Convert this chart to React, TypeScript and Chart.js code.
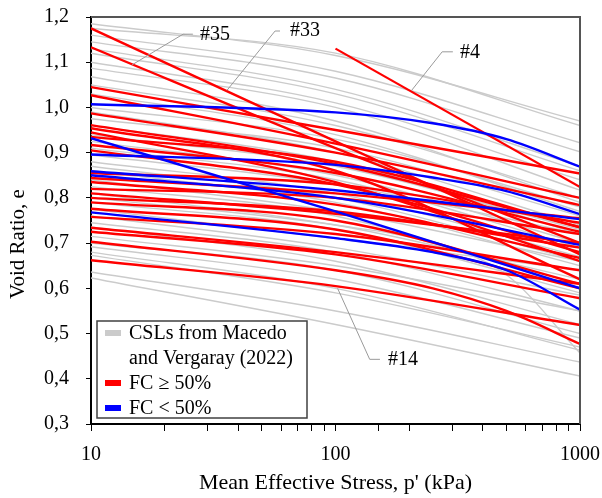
import React, { useEffect, useRef } from "react";
import { Chart, registerables } from "chart.js";

Chart.register(...registerables);

// Mean effective stress grids (kPa)
const STRESS = [10, 100, 1000];
const CURVE_STRESS = [10, 100, 250, 500, 1000];
const RED4_STRESS = [100, 1000];

// CSLs from Macedo and Vergaray (2022) – void ratio at STRESS
const grayCSL: number[][] = [
  [1.185, 1.115, 0.97],
  [1.175, 1.12, 0.96],
  [1.16, 1.08, 0.922],
  [1.145, 1.065, 0.902],
  [1.13, 1.04, 0.87],
  [1.12, 1.03, 0.86],
  [1.1, 1.01, 0.84],
  [1.087, 1.0, 0.817],
  [1.068, 0.97, 0.79],
  [1.05, 0.96, 0.8],
  [1.03, 0.94, 0.77],
  [1.0, 0.93, 0.78],
  [0.99, 0.9, 0.74],
  [0.975, 0.91, 0.76],
  [0.96, 0.88, 0.72],
  [0.94, 0.87, 0.73],
  [0.925, 0.85, 0.7],
  [0.91, 0.84, 0.69],
  [0.895, 0.83, 0.72],
  [0.88, 0.81, 0.67],
  [0.87, 0.8, 0.66],
  [0.86, 0.79, 0.65],
  [0.84, 0.77, 0.66],
  [0.825, 0.76, 0.6],
  [0.81, 0.74, 0.62],
  [0.79, 0.73, 0.59],
  [0.775, 0.71, 0.64],
  [0.76, 0.69, 0.585],
  [0.745, 0.68, 0.55],
  [0.736, 0.66, 0.52],
  [0.715, 0.65, 0.55],
  [0.7, 0.64, 0.5],
  [0.692, 0.62, 0.49],
  [0.68, 0.6, 0.463],
  [0.673, 0.59, 0.47],
  [0.636, 0.55, 0.437],
  [0.623, 0.52, 0.406],
];
// curved CSL – void ratio at CURVE_STRESS
const grayCSLCurved: number[][] = [[0.8, 0.74, 0.7, 0.63, 0.457]];

// FC >= 50 % – void ratio at STRESS
const redFC: number[][] = [
  [1.175, 0.925, 0.675], // #33
  [1.133, 0.91, 0.7], // #35
  [1.045, 0.95, 0.854],
  [1.027, 0.92, 0.8],
  [0.987, 0.9, 0.784],
  [0.961, 0.875, 0.735],
  [0.954, 0.86, 0.62],
  [0.945, 0.835, 0.66],
  [0.935, 0.88, 0.735],
  [0.917, 0.855, 0.725],
  [0.905, 0.83, 0.68],
  [0.855, 0.83, 0.745],
  [0.844, 0.81, 0.755],
  [0.835, 0.785, 0.667],
  [0.82, 0.8, 0.72],
  [0.81, 0.765, 0.7],
  [0.8, 0.77, 0.69],
  [0.79, 0.75, 0.61],
  [0.776, 0.73, 0.6],
  [0.758, 0.72, 0.64],
  [0.734, 0.68, 0.61],
  [0.725, 0.675, 0.578],
  [0.662, 0.605, 0.519],
];
const redFCCurved: number[][] = [[0.703, 0.64, 0.6, 0.55, 0.477]];
const red4: number[] = [1.13, 0.824]; // #4 at RED4_STRESS

// FC < 50 %
const blueFC: number[][] = [
  [0.932, 0.77, 0.6],
  [0.859, 0.817, 0.753],
  [0.85, 0.8, 0.696],
];
const blueFCCurved: number[][] = [
  [1.007, 0.989, 0.965, 0.93, 0.869],
  [0.896, 0.873, 0.845, 0.815, 0.764],
  [0.768, 0.711, 0.68, 0.64, 0.553],
];

// annotation labels: text, anchor (p, e) of text, leader polyline in (p, e)
const LABELS: { text: string; at: [number, number]; leader: [number, number][] }[] = [
  { text: "#35", at: [27.9, 1.16], leader: [[26.1, 1.162], [23.8, 1.162], [14.7, 1.094]] },
  { text: "#33", at: [65.2, 1.169], leader: [[59.3, 1.169], [56.6, 1.169], [36.0, 1.038]] },
  { text: "#4", at: [323, 1.12], leader: [[302, 1.123], [273, 1.123], [205, 1.038]] },
  { text: "#14", at: [164, 0.441], leader: [[152, 0.443], [138, 0.443], [102, 0.6]] },
];

const FONT = "'Liberation Serif', 'Times New Roman', serif";

function pts(xs: number[], ys: number[]) {
  return xs.map((x, i) => ({ x, y: ys[i] }));
}

export default function App() {
  const ref = useRef<HTMLCanvasElement>(null);

  useEffect(() => {
    document.body.style.margin = "0";
    const RED = "#ff0000";
    const BLUE = "#0000ff";
    const GRAY = "#cbcbcb";
    const line = (data: any[], color: string, w: number) => ({
      data,
      borderColor: color,
      backgroundColor: color,
      borderWidth: w,
      pointRadius: 0,
      fill: false,
      cubicInterpolationMode: "monotone",
    });
    const datasets: any[] = [];
    blueFC.forEach((s) => datasets.push(line(pts(STRESS, s), BLUE, 2.4)));
    blueFCCurved.forEach((s) => datasets.push(line(pts(CURVE_STRESS, s), BLUE, 2.4)));
    datasets.push(line(pts(RED4_STRESS, red4), RED, 2.2));
    redFC.forEach((s) => datasets.push(line(pts(STRESS, s), RED, 2.4)));
    redFCCurved.forEach((s) => datasets.push(line(pts(CURVE_STRESS, s), RED, 2.4)));
    grayCSL.forEach((s) => datasets.push(line(pts(STRESS, s), GRAY, 1.4)));
    grayCSLCurved.forEach((s) => datasets.push(line(pts(CURVE_STRESS, s), GRAY, 1.4)));

    const overlay = {
      id: "overlay",
      afterDatasetsDraw(chart: any) {
        const { ctx, chartArea, scales } = chart;
        const xs = scales.x;
        const ys = scales.y;
        ctx.save();
        // frame top/right
        ctx.strokeStyle = "#555555";
        ctx.lineWidth = 2;
        ctx.beginPath();
        ctx.moveTo(chartArea.left, chartArea.top);
        ctx.lineTo(chartArea.right, chartArea.top);
        ctx.lineTo(chartArea.right, chartArea.bottom);
        ctx.stroke();

        // annotation labels
        ctx.font = `20px ${FONT}`;
        ctx.fillStyle = "#000";
        ctx.textBaseline = "middle";
        ctx.textAlign = "left";
        LABELS.forEach((l) => {
          ctx.strokeStyle = "#9a9a9a";
          ctx.lineWidth = 1;
          ctx.beginPath();
          l.leader.forEach(([p, e], i) => {
            const px = xs.getPixelForValue(p);
            const py = ys.getPixelForValue(e);
            if (i === 0) ctx.moveTo(px, py);
            else ctx.lineTo(px, py);
          });
          ctx.stroke();
          ctx.fillText(l.text, xs.getPixelForValue(l.at[0]), ys.getPixelForValue(l.at[1]));
        });

        // legend box
        const bx = chartArea.left + 6;
        const by = 321;
        const bw = 210;
        const bh = 97;
        ctx.fillStyle = "#ffffff";
        ctx.fillRect(bx, by, bw, bh);
        ctx.strokeStyle = "#404040";
        ctx.lineWidth = 1.5;
        ctx.strokeRect(bx, by, bw, bh);
        const items = [
          { c: GRAY, t: "CSLs from Macedo", y: 333, h: 6 },
          { c: null, t: "and Vergaray (2022)", y: 358, h: 0 },
          { c: RED, t: "FC \u2265 50%", y: 383, h: 6 },
          { c: BLUE, t: "FC < 50%", y: 408, h: 6 },
        ];
        ctx.font = `20px ${FONT}`;
        items.forEach((it) => {
          if (it.c) {
            ctx.fillStyle = it.c;
            ctx.fillRect(bx + 8, it.y - 3, 16, it.h);
          }
          ctx.fillStyle = "#000";
          ctx.fillText(it.t, bx + 32, it.y + 1);
        });

        // y-axis title
        ctx.save();
        ctx.translate(18, 244);
        ctx.rotate(-Math.PI / 2);
        ctx.textAlign = "center";
        ctx.font = `21px ${FONT}`;
        ctx.fillText("Void Ratio, e", 0, 0);
        ctx.restore();
        ctx.restore();
      },
    };

    const chart = new Chart(ref.current as HTMLCanvasElement, {
      type: "line",
      data: { datasets },
      plugins: [overlay],
      options: {
        animation: false,
        responsive: false,
        maintainAspectRatio: false,
        layout: { padding: { top: 17, right: 22, left: 0, bottom: 0 } },
        plugins: { legend: { display: false }, tooltip: { enabled: false } },
        scales: {
          x: {
            type: "logarithmic",
            min: 10,
            max: 1000,
            ticks: {
              autoSkip: false,
              maxRotation: 0,
              padding: 12,
              color: "#000",
              font: { family: FONT, size: 20 },
              callback: (v: any) => {
                const l = Math.log10(Number(v));
                return Math.abs(l - Math.round(l)) < 1e-9 ? String(Math.round(Number(v))) : "";
              },
            },
            grid: { drawOnChartArea: false, drawTicks: true, tickLength: 7, color: "#000", lineWidth: 1 },
            border: { color: "#000", width: 2 },
            title: {
              display: true,
              text: "Mean Effective Stress, p' (kPa)",
              color: "#000",
              font: { family: FONT, size: 22 },
              padding: { top: 0, bottom: 2 },
            },
            afterFit: (s: any) => {
              s.height = 74;
              s.paddingLeft = 0;
              s.paddingRight = 0;
            },
          },
          y: {
            type: "linear",
            min: 0.3,
            max: 1.2,
            ticks: {
              stepSize: 0.1,
              padding: 17,
              color: "#000",
              font: { family: FONT, size: 20 },
              callback: (v: any) => Number(v).toFixed(1).replace(".", ","),
            },
            grid: { drawOnChartArea: false, drawTicks: true, tickLength: 5, color: "#000", lineWidth: 1 },
            border: { color: "#000", width: 2 },
            afterFit: (s: any) => {
              s.width = 91;
              s.paddingTop = 0;
              s.paddingBottom = 0;
            },
          },
        },
      } as any,
    });
    return () => chart.destroy();
  }, []);

  return (
    <div style={{ width: 602, height: 498 }}>
      <canvas ref={ref} width={602} height={498} style={{ display: "block" }} />
    </div>
  );
}
